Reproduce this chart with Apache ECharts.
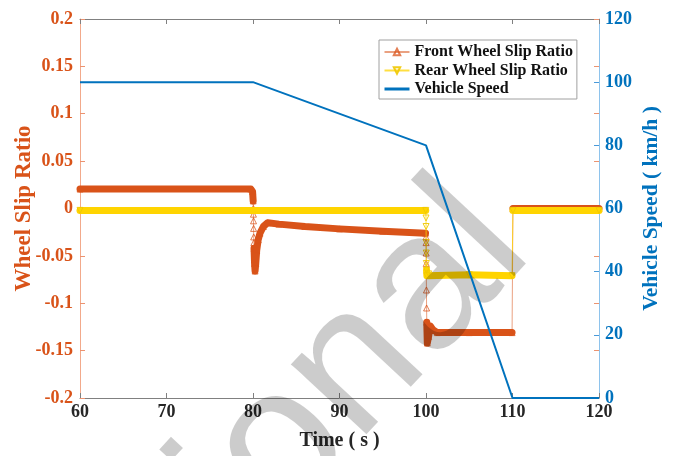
<!DOCTYPE html>
<html>
<head>
<meta charset="utf-8">
<script src="https://cdn.jsdelivr.net/npm/echarts@6/dist/echarts.min.js"></script>
<style>
  html, body { margin: 0; padding: 0; background: #ffffff; }
  #chart { width: 673px; height: 456px; }
</style>
</head>
<body>
<div id="chart"></div>
<script>
// Time axis (s) and axis ranges
const timeRange = [60, 120];
const slipRange = [-0.2, 0.2];
const speedRange = [0, 120];

// Front wheel slip ratio: [time s, slip]
const frontSlip = [
  [60, 0.0205], [79.75, 0.0205], [79.95, 0.018], [80.02, 0.008], [80.04, 0.0],
  [80.05, -0.006], [80.06, -0.013], [80.07, -0.021], [80.08, -0.03], [80.1, -0.036],
  [80.12, -0.042], [80.18, -0.058], [80.24, -0.066], [80.32, -0.058], [80.43, -0.044],
  [80.6, -0.033], [80.81, -0.026], [81.2, -0.019], [81.7, -0.015], [83, -0.0165],
  [86, -0.019], [90, -0.0215], [95, -0.024], [99.95, -0.026], [100.0, -0.03],
  [100.01, -0.036], [100.02, -0.047], [100.03, -0.058], [100.05, -0.086], [100.07, -0.105],
  [100.09, -0.12], [100.15, -0.142], [100.3, -0.135], [100.5, -0.124], [100.8, -0.128],
  [101.3, -0.131], [105, -0.131], [109.95, -0.131], [110.05, 0.0], [120, 0.0]
];
// Stretches where the sampled markers pile up into a solid band
const frontDense = [
  [[60, 0.0205], [79.75, 0.0205], [79.95, 0.018], [80.02, 0.008]],
  [[80.12, -0.042], [80.18, -0.058], [80.24, -0.066], [80.32, -0.058], [80.43, -0.044],
   [80.6, -0.033], [80.81, -0.026], [81.2, -0.019], [81.7, -0.015], [83, -0.0165],
   [86, -0.019], [90, -0.0215], [95, -0.024], [99.95, -0.026]],
  [[100.09, -0.12], [100.15, -0.142], [100.3, -0.135], [100.5, -0.124], [100.8, -0.128],
   [101.3, -0.131], [105, -0.131], [109.95, -0.131]],
  [[110.05, 0.0], [120, 0.0]]
];

// Rear wheel slip ratio: [time s, slip]
const rearSlip = [
  [60, -0.002], [99.97, -0.002], [100.0, -0.01], [100.01, -0.019], [100.02, -0.036],
  [100.03, -0.047], [100.04, -0.058], [100.06, -0.065], [100.1, -0.071], [100.3, -0.069],
  [105, -0.07], [109.95, -0.071], [110.05, -0.002], [120, -0.002]
];
const rearDense = [
  [[60, -0.002], [99.97, -0.002]],
  [[100.06, -0.065], [100.1, -0.071], [100.3, -0.069], [105, -0.07], [109.95, -0.071]],
  [[110.05, -0.002], [120, -0.002]]
];

// Vehicle speed (km/h)
const speedTime = [60, 80, 100, 110, 120];
const speedValue = [100, 100, 80, 0, 0];

const seriesNames = ['Front Wheel Slip Ratio', 'Rear Wheel Slip Ratio', 'Vehicle Speed'];

const ORANGE = '#D95319';
const YELLOW = '#FFD400';
const BLUE = '#0072BD';
const SERIF = '"Liberation Serif", "Times New Roman", serif';

function band(run, color, z) {
  return {
    type: 'line', data: run, yAxisIndex: 0, showSymbol: false, symbol: 'none', silent: true, z: z,
    lineStyle: { color: color, width: 7, cap: 'round', join: 'round' },
    emphasis: { disabled: true }, animation: false
  };
}

const series = [];
frontDense.forEach(r => series.push(band(r, ORANGE, 2)));
series.push({
  name: seriesNames[0], type: 'line', data: frontSlip, yAxisIndex: 0, z: 2,
  symbol: 'triangle', symbolSize: 6,
  itemStyle: { color: 'rgba(255,255,255,0)', borderColor: 'rgba(217,83,25,0.75)', borderWidth: 1 },
  lineStyle: { color: 'rgba(217,83,25,0.55)', width: 1 },
  emphasis: { disabled: true }, animation: false
});
rearDense.forEach(r => series.push(band(r, YELLOW, 3)));
series.push({
  name: seriesNames[1], type: 'line', data: rearSlip, yAxisIndex: 0, z: 3,
  symbol: 'triangle', symbolRotate: 180, symbolSize: 6,
  itemStyle: { color: 'rgba(255,255,255,0)', borderColor: 'rgba(240,200,0,0.9)', borderWidth: 1 },
  lineStyle: { color: 'rgba(255,212,0,0.75)', width: 1 },
  emphasis: { disabled: true }, animation: false
});
series.push({
  name: seriesNames[2], type: 'line', yAxisIndex: 1, z: 120,
  data: speedTime.map((t, i) => [t, speedValue[i]]),
  symbol: 'none', showSymbol: false,
  itemStyle: { color: BLUE },
  lineStyle: { color: BLUE, width: 2 },
  emphasis: { disabled: true }, animation: false
});

const chart = echarts.init(document.getElementById('chart'), null, { renderer: 'canvas' });
chart.setOption({
  animation: false,
  backgroundColor: '#ffffff',
  grid: { left: 80, right: 74, top: 19, bottom: 58, containLabel: false, outerBoundsMode: 'none' },
  legend: {
    data: [
      seriesNames[0],
      seriesNames[1],
      { name: seriesNames[2], itemStyle: { opacity: 0 }, lineStyle: { width: 3 } }
    ],
    orient: 'vertical', left: 379, top: 40, z: 130,
    padding: [4, 4, 2, 4], itemGap: 2.5, itemWidth: 25, itemHeight: 8,
    borderColor: '#a0a0a0', borderWidth: 1, backgroundColor: '#ffffff',
    selectedMode: false,
    textStyle: { fontFamily: SERIF, fontWeight: 'bold', fontSize: 16, lineHeight: 16, color: '#111111' }
  },
  xAxis: [{
    type: 'value', min: timeRange[0], max: timeRange[1], interval: 10, position: 'bottom',
    axisLine: { show: true, onZero: false, lineStyle: { color: '#808080', width: 1 } },
    axisTick: { show: true, inside: true, length: 5, lineStyle: { color: '#808080' } },
    axisLabel: { color: '#262626', fontFamily: SERIF, fontWeight: 'bold', fontSize: 18, margin: 5 },
    splitLine: { show: false },
    name: 'Time ( s )', nameLocation: 'middle', nameGap: 33, nameMoveOverlap: false,
    nameTextStyle: { color: '#262626', fontFamily: SERIF, fontWeight: 'bold', fontSize: 20 }
  }, {
    type: 'value', min: timeRange[0], max: timeRange[1], interval: 10, position: 'top',
    axisLine: { show: true, onZero: false, lineStyle: { color: '#808080', width: 1 } },
    axisTick: { show: true, inside: true, length: 5, lineStyle: { color: '#808080' } },
    axisLabel: { show: false }, splitLine: { show: false }
  }],
  yAxis: [{
    type: 'value', min: slipRange[0], max: slipRange[1], interval: 0.05, position: 'left',
    axisLine: { show: true, onZero: false, lineStyle: { color: '#F2A98B', width: 1 } },
    axisTick: { show: true, inside: true, length: 5, lineStyle: { color: '#EC9370' } },
    axisLabel: { color: ORANGE, fontFamily: SERIF, fontWeight: 'bold', fontSize: 18, margin: 7 },
    splitLine: { show: false },
    name: 'Wheel Slip Ratio', nameLocation: 'middle', nameGap: 44, nameRotate: 90, nameMoveOverlap: false,
    nameTextStyle: { color: ORANGE, fontFamily: SERIF, fontWeight: 'bold', fontSize: 23 }
  }, {
    type: 'value', min: speedRange[0], max: speedRange[1], interval: 20, position: 'right',
    axisLine: { show: true, onZero: false, lineStyle: { color: '#8EC3EC', width: 1 } },
    axisTick: { show: true, inside: true, length: 5, lineStyle: { color: '#4A9AD9' } },
    axisLabel: { color: BLUE, fontFamily: SERIF, fontWeight: 'bold', fontSize: 18, margin: 6 },
    splitLine: { show: false },
    name: 'Vehicle Speed ( km/h )', nameLocation: 'middle', nameGap: 41, nameRotate: 90, nameMoveOverlap: false,
    nameTextStyle: { color: BLUE, fontFamily: SERIF, fontWeight: 'bold', fontSize: 21.5 }
  }, {
    type: 'value', min: slipRange[0], max: slipRange[1], interval: 0.05, position: 'right',
    axisLine: { show: false },
    axisTick: { show: true, inside: true, length: 5, lineStyle: { color: '#EC9370' } },
    axisLabel: { show: false }, splitLine: { show: false }
  }],
  graphic: [{
    type: 'text', x: 355, y: 368, rotation: 47 * Math.PI / 180, z: 100, silent: true,
    style: {
      text: 'ional', fontSize: 195, fontFamily: '"Liberation Sans", Arial, sans-serif',
      fill: 'rgba(0,0,0,0.2)', textAlign: 'center', textVerticalAlign: 'middle',
      align: 'center', verticalAlign: 'middle'
    }
  }],
  series: series
});
</script>
</body>
</html>
